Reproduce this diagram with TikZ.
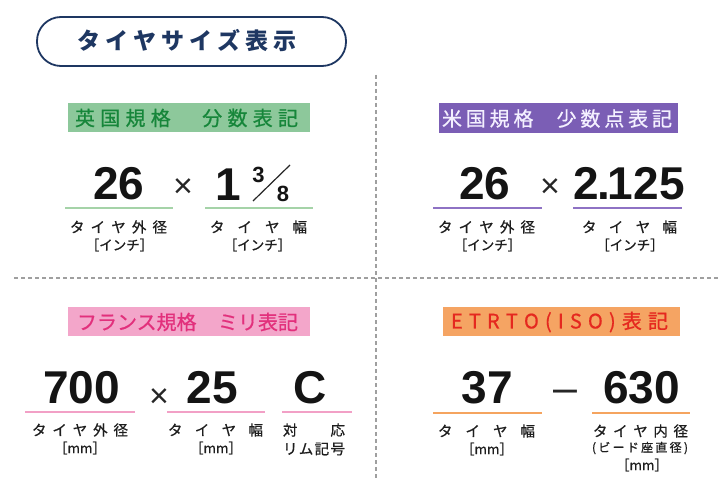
\documentclass[tikz,border=0pt]{standalone}
\usepackage{fontspec}
\newfontfamily\jp{Noto Sans CJK JP}
\newfontfamily\jpm[FakeBold=0.7]{Noto Sans CJK JP}
\newfontfamily\numf{Liberation Sans}
\newcommand\spreadbox[2]{\makebox[#1][s]{#2}}
\definecolor{navy}{HTML}{1E3762}
\definecolor{grnbg}{HTML}{8DC89B}
\definecolor{grntx}{HTML}{16863A}
\definecolor{purbg}{HTML}{7B5EB5}
\definecolor{purtx}{HTML}{F4F0FF}
\definecolor{pinkbg}{HTML}{F3A6CA}
\definecolor{pinktx}{HTML}{E2307C}
\definecolor{orgbg}{HTML}{F5A463}
\definecolor{orgtx}{HTML}{E5281F}
\definecolor{grnline}{HTML}{A5D3A8}
\definecolor{purline}{HTML}{8E72C4}
\definecolor{pinkline}{HTML}{F2A0C6}
\definecolor{orgline}{HTML}{F5A45F}
\definecolor{lbltx}{HTML}{1E1E1E}
\begin{document}
\begin{tikzpicture}[x=1pt,y=-1pt,
  num/.style={font=\numf\bfseries\fontsize{46}{46}\selectfont, anchor=base, inner sep=0pt, text=black!92},
  frac/.style={font=\numf\bfseries\fontsize{22}{22}\selectfont, anchor=base, inner sep=0pt, text=black!92},
  times/.style={font=\numf\fontsize{34}{34}\selectfont, anchor=base, inner sep=0pt, text=black!85},
  lbl/.style={font=\jpm\fontsize{14.5}{14.5}\selectfont, inner sep=0pt, text=lbltx},
  unitlbl/.style={font=\jpm\fontsize{13.5}{13.5}\selectfont, inner sep=0pt, text=lbltx},
  small/.style={font=\jpm\fontsize{12}{12}\selectfont, inner sep=0pt, text=lbltx},
  hdrbox/.style={inner sep=0pt, draw=none},
  hdr/.style={inner sep=0pt, font=\jpm\fontsize{20}{20}\selectfont},
  uline/.style={line width=2.5pt},
  divider/.style={dash pattern=on 4pt off 3pt, line width=1.2pt, gray!75}
]
\useasboundingbox (0,0) rectangle (720,489);
\fill[white] (0,0) rectangle (720,489);

% dividers
\draw[divider] (376,75) -- (376,478);
\draw[divider] (14,278) -- (720,278);

% title
\draw[navy, line width=1.8pt, rounded corners=24pt] (37,17) rectangle (346,66);
\node[font=\jp\bfseries\fontsize{23}{23}\selectfont, text=navy, inner sep=0pt] (title) at (187,41)
  {\spreadbox{220pt}{タ\hfill イ\hfill ヤ\hfill サ\hfill イ\hfill ズ\hfill 表\hfill 示}};

% headers
\node[hdrbox, fill=grnbg, minimum width=242pt, minimum height=29pt] (hA) at (189,117.5) {};
\node[hdr, text=grntx] (hAt) at (186.5,118)
  {\spreadbox{223pt}{英\hfill 国\hfill 規\hfill 格\hfill\hfill\hfill\hfill\hfill\hfill 分\hfill 数\hfill 表\hfill 記}};
\node[hdrbox, fill=purbg, minimum width=239pt, minimum height=30pt] (hB) at (558.5,118) {};
\node[hdr, text=purtx] (hBt) at (557,118.5)
  {\spreadbox{230pt}{米\hfill 国\hfill 規\hfill 格\hfill\hfill\hfill\hfill\hfill\hfill 少\hfill 数\hfill 点\hfill 表\hfill 記}};
\node[hdrbox, fill=pinkbg, minimum width=242pt, minimum height=29pt] (hC) at (189,321.5) {};
\node[hdr, text=pinktx] (hCt) at (187.5,322)
  {\spreadbox{221pt}{フランス規格\hfill ミリ表記}};
\node[hdrbox, fill=orgbg, minimum width=237pt, minimum height=29pt] (hD) at (561.5,321.5) {};
\node[hdr, text=orgtx] (hDt) at (559.5,322)
  {\spreadbox{217pt}{E\hfill T\hfill R\hfill T\hfill O\hfill (\hfill I\hfill S\hfill O\hfill )\hfill 表\hfill 記}};

% ---- top left
\node[num] (a1) at (119,200) {26};
\node[times] (ax) at (183,197) {×};
\node[num] (a2) at (228,201) {1};
\node[frac] (a3) at (258.5,183) {3};
\node[frac] (a4) at (283,202) {8};
\draw[line width=1.2pt, black!85] (290,165) -- (253,201);
\draw[uline, grnline] (65,208) -- (173,208);
\draw[uline, grnline] (205,208) -- (313,208);
\node[lbl] (a1l) at (118.5,227) {\spreadbox{97pt}{タ\hfill イ\hfill ヤ\hfill 外\hfill 径}};
\node[unitlbl] (a1u) at (119.5,245) {［インチ］};
\node[lbl] (a2l) at (258.5,227) {\spreadbox{97pt}{タ\hfill イ\hfill ヤ\hfill 幅}};
\node[unitlbl] (a2u) at (257.5,245) {［インチ］};

% ---- top right
\node[num] (b1) at (485,200) {26};
\node[times] (bx) at (550,197) {×};
\node[num] (b2) at (629,200) {2\kern-2pt.\kern-2pt125};
\draw[uline, purline] (433,208) -- (542,208);
\draw[uline, purline] (573,208) -- (682,208);
\node[lbl] (b1l) at (486.5,227) {\spreadbox{97pt}{タ\hfill イ\hfill ヤ\hfill 外\hfill 径}};
\node[unitlbl] (b1u) at (487.5,245) {［インチ］};
\node[lbl] (b2l) at (629.5,227) {\spreadbox{95pt}{タ\hfill イ\hfill ヤ\hfill 幅}};
\node[unitlbl] (b2u) at (630,245) {［インチ］};

% ---- bottom left
\node[num] (c1) at (81.5,403) {700};
\node[times] (cx) at (159,407) {×};
\node[num] (c2) at (212.5,403) {25};
\node[num] (c3) at (310,403) {C};
\draw[uline, pinkline] (25,412) -- (135,412);
\draw[uline, pinkline] (167,412) -- (265,412);
\draw[uline, pinkline] (282,412) -- (352,412);
\node[lbl] (c1l) at (80,430) {\spreadbox{96pt}{タ\hfill イ\hfill ヤ\hfill 外\hfill 径}};
\node[unitlbl] (c1u) at (80,448) {［mm］};
\node[lbl] (c2l) at (215.5,430) {\spreadbox{95pt}{タ\hfill イ\hfill ヤ\hfill 幅}};
\node[unitlbl] (c2u) at (216,448) {［mm］};
\node[lbl] (c3l) at (314,430) {\spreadbox{62pt}{対\hfill 応}};
\node[lbl] (c3m) at (314,449) {\spreadbox{62pt}{リ\hfill ム\hfill 記\hfill 号}};

% ---- bottom right
\node[num] (d1) at (487.5,403) {37};
\node[font=\numf\fontsize{43}{43}\selectfont, anchor=base, inner sep=0pt, text=black!85] (dx) at (565,402) {–};
\node[num] (d2) at (641.5,403) {630};
\draw[uline, orgline] (433,413) -- (542,413);
\draw[uline, orgline] (592,413) -- (690,413);
\node[lbl] (d1l) at (486.5,431) {\spreadbox{97pt}{タ\hfill イ\hfill ヤ\hfill 幅}};
\node[unitlbl] (d1u) at (487,449) {［mm］};
\node[lbl] (d2l) at (640.5,431) {\spreadbox{95pt}{タ\hfill イ\hfill ヤ\hfill 内\hfill 径}};
\node[small] (d2s) at (640,448) {\spreadbox{96pt}{(\hfill ビ\hfill ー\hfill ド\hfill 座\hfill 直\hfill 径\hfill )}};
\node[unitlbl] (d2u) at (642,465) {［mm］};
\end{tikzpicture}
\end{document}
